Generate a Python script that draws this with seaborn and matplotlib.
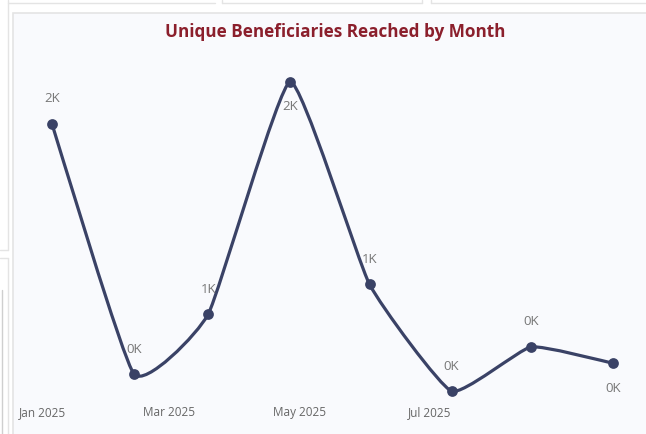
import numpy as np
import pandas as pd
import matplotlib
matplotlib.use("Agg")
import matplotlib.pyplot as plt
import matplotlib.dates as mdates
from matplotlib.path import Path
from matplotlib.patches import PathPatch, Rectangle
from matplotlib.lines import Line2D
import seaborn as sns

# ---- data ----
months = ["2025-01-01", "2025-02-01", "2025-03-01", "2025-04-01",
          "2025-05-01", "2025-06-01", "2025-07-01", "2025-08-01"]
beneficiaries = [2030, 190, 630, 2340, 850, 65, 390, 270]
tick_labels = ["Jan 2025", "Mar 2025", "May 2025", "Jul 2025"]
title = "Unique Beneficiaries Reached by Month"

df = pd.DataFrame({"month": pd.to_datetime(months), "value": beneficiaries})

sns.set_theme(style="white")
plt.rcParams["font.family"] = ["Open Sans", "DejaVu Sans"]

W, H = 646, 434
fig = plt.figure(figsize=(W / 100, H / 100), dpi=100)
fig.patch.set_facecolor("white")

def fx(x):
    return x / W

def fy(y):
    return 1 - y / H

# page decoration (surrounding tiles)
border = "#e4e4e4"
fig.add_artist(Rectangle((fx(13), fy(440)), fx(652) - fx(13), fy(13) - fy(440),
                         transform=fig.transFigure, facecolor="#f9fafd",
                         edgecolor=border, linewidth=1.2, zorder=0, clip_on=False))
for (x0, y0, x1, y1) in [(8, 0, 8, 250), (0, 250, 8, 250), (8, 3, 215, 3),
                         (222, 0, 222, 3), (222, 3, 422, 3), (422, 0, 422, 3),
                         (431, 0, 431, 3), (431, 3, 646, 3), (0, 258, 8, 258),
                         (8, 258, 8, 434)]:
    fig.add_artist(Line2D([fx(x0), fx(x1)], [fy(y0), fy(y1)], transform=fig.transFigure,
                          color=border, linewidth=1.0, zorder=0))
fig.add_artist(Line2D([fx(2), fx(2)], [fy(290), fy(434)], transform=fig.transFigure,
                      color="#cfcfcf", linewidth=1.0, zorder=0))

# axes: first month at x=52px, last at x=613px; axis extended left for the labels
AX_L, X0, X1 = 25, 52, 613
ax = fig.add_axes([fx(AX_L), fy(400), fx(X1) - fx(AX_L), fy(60) - fy(400)])
ax.set_facecolor("none")

line_color = "#3a4266"

xs = mdates.date2num(df["month"])
ys = df["value"].to_numpy(dtype=float)
span = xs[-1] - xs[0]
x_left = xs[0] - (X0 - AX_L) / (X1 - X0) * span

# smooth cardinal curve through the data points (rendering only)
k = 0.07
pts = np.column_stack([xs, ys])
ext = np.vstack([pts[0], pts, pts[-1]])
verts = [tuple(pts[0])]
codes = [Path.MOVETO]
for i in range(len(pts) - 1):
    p0, p1, p2, p3 = ext[i], ext[i + 1], ext[i + 2], ext[i + 3]
    c1 = p1 + k * (p2 - p0)
    c2 = p2 - k * (p3 - p1)
    verts += [tuple(c1), tuple(c2), tuple(p2)]
    codes += [Path.CURVE4] * 3
ax.add_patch(PathPatch(Path(verts, codes), facecolor="none", edgecolor=line_color,
                       linewidth=2.3, capstyle="round", joinstyle="round",
                       clip_on=False, zorder=2))

sns.scatterplot(data=df, x="month", y="value", ax=ax, color=line_color, s=60,
                edgecolor=line_color, linewidth=0, zorder=3, clip_on=False, legend=False)

# data labels
label_pos = ["above", "above", "above", "below", "above", "above", "above", "below"]
for (m, v), pos in zip(zip(df["month"], df["value"]), label_pos):
    off = 18 if pos == "above" else -18
    ax.annotate(f"{round(v / 1000)}K", (mdates.date2num(m), v), xytext=(0, off),
                textcoords="offset points", ha="center", va="center",
                fontsize=9.5, color="#777777", annotation_clip=False, zorder=4)

# x axis labels
tick_px = [42, 169, 300, 430]
tick_vals = [xs[0] + (p - X0) / (X1 - X0) * span for p in tick_px]
ax.set_xticks(tick_vals)
ax.set_xticklabels(tick_labels, fontsize=8.5, color="#666666")
ax.tick_params(axis="x", length=0, pad=4.5)
ax.set_yticks([])
ax.set_xlabel("")
ax.set_ylabel("")
ax.set_xlim(x_left, xs[-1])
ax.set_ylim(0, 2500)
for sp in ax.spines.values():
    sp.set_visible(False)

fig.text(fx(335), fy(32), title, ha="center", va="center", fontsize=12.3,
         fontweight="bold", color="#8b1f2c")

fig.savefig("out.png", dpi=100, facecolor=fig.get_facecolor())
